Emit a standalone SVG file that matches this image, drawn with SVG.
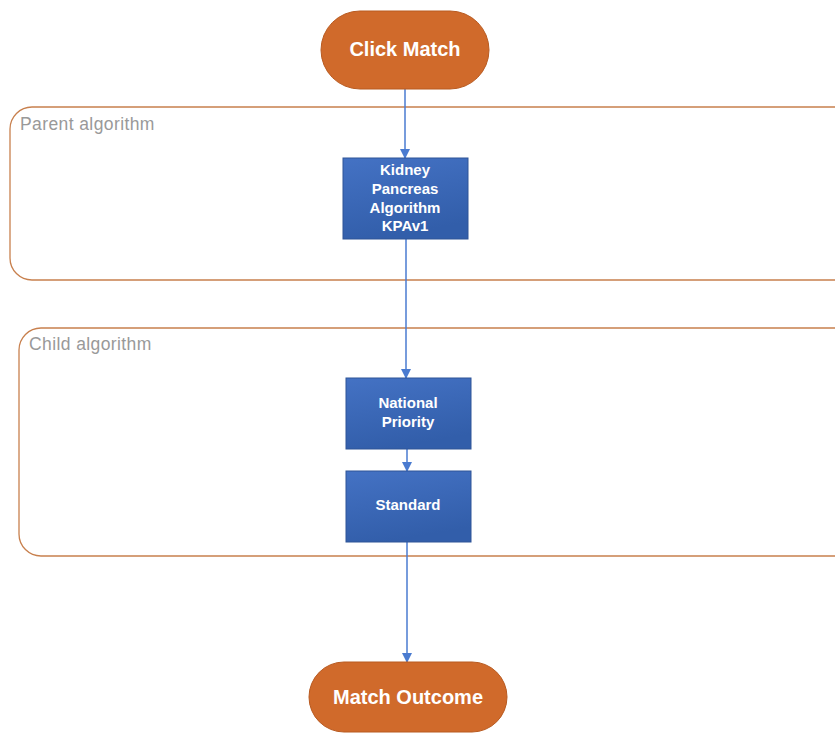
<svg xmlns="http://www.w3.org/2000/svg" width="835" height="733" viewBox="0 0 835 733">
<style>
.pill{fill:#D06A2B;stroke:#B85A20;stroke-width:1}
.pt{font-family:"Liberation Sans",Arial,sans-serif;font-weight:bold;font-size:20px;fill:#fff;text-anchor:middle}
.box{fill:url(#bg);stroke:#2F5597;stroke-width:1}
.bt{font-family:"Liberation Sans",Arial,sans-serif;font-weight:bold;font-size:15px;fill:#fff;text-anchor:middle}
.cont{fill:none;stroke:#C8804E;stroke-width:1.3}
.ct{font-family:"Liberation Sans",Arial,sans-serif;font-size:17.5px;letter-spacing:0.4px;fill:#999}
.con{stroke:#4A7BD0;stroke-width:1.5;fill:none;marker-end:url(#ah)}
</style>
<defs>
<linearGradient id="bg" x1="0" y1="0" x2="0.3" y2="1">
<stop offset="0" stop-color="#4472C4"/>
<stop offset="1" stop-color="#325EAA"/>
</linearGradient>
<marker id="ah" markerWidth="10" markerHeight="10" refX="9" refY="5" orient="auto" markerUnits="userSpaceOnUse">
<path d="M0,0 L10,5 L0,10 z" fill="#4A7BD0"/>
</marker>
</defs>
<rect width="835" height="733" fill="#fff"/>
<g id="parent">
<rect class="cont" x="10" y="107" width="850" height="173" rx="22"/>
<text class="ct" x="20" y="130">Parent algorithm</text>
</g>
<g id="child">
<rect class="cont" x="19" y="328" width="840" height="228" rx="22"/>
<text class="ct" x="29" y="350">Child algorithm</text>
</g>
<g id="connectors">
<line class="con" x1="405" y1="89" x2="405" y2="158"/>
<line class="con" x1="406" y1="239" x2="406" y2="378"/>
<line class="con" x1="407" y1="449" x2="407" y2="471"/>
<line class="con" x1="407" y1="542" x2="407" y2="662"/>
</g>
<g id="click-match">
<rect class="pill" x="321" y="11" width="168" height="78" rx="39"/>
<text class="pt" x="405" y="56">Click Match</text>
</g>
<g id="kpa">
<rect class="box" x="343" y="158" width="125" height="81"/>
<text class="bt" x="405" y="175">Kidney</text>
<text class="bt" x="405" y="194">Pancreas</text>
<text class="bt" x="405" y="213">Algorithm</text>
<text class="bt" x="405" y="231">KPAv1</text>
</g>
<g id="national">
<rect class="box" x="346" y="378" width="125" height="71"/>
<text class="bt" x="408" y="408">National</text>
<text class="bt" x="408" y="427">Priority</text>
</g>
<g id="standard">
<rect class="box" x="346" y="471" width="125" height="71"/>
<text class="bt" x="408" y="510">Standard</text>
</g>
<g id="match-outcome">
<rect class="pill" x="309" y="662" width="198" height="70" rx="35"/>
<text class="pt" x="408" y="704">Match Outcome</text>
</g>
</svg>
